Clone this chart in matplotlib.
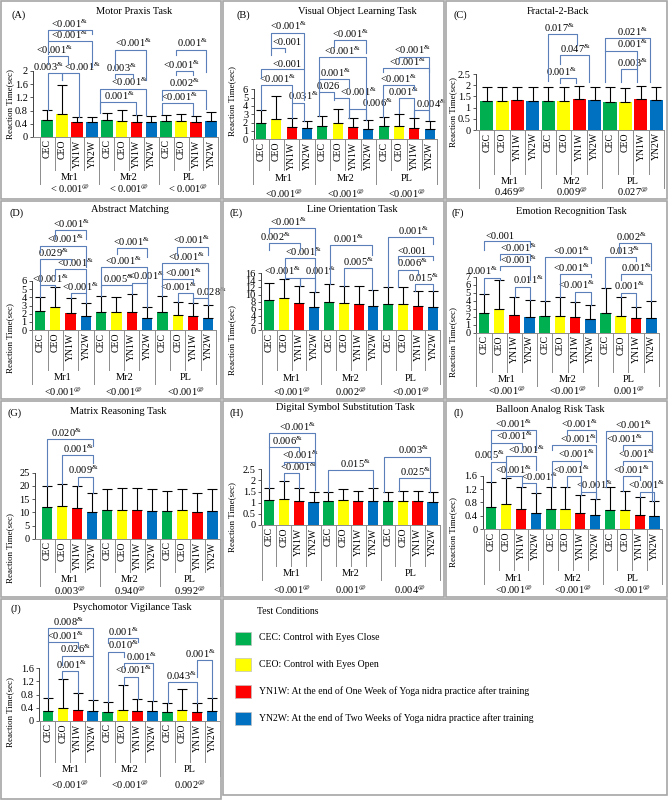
import matplotlib
matplotlib.use('Agg')
import matplotlib.pyplot as plt
from matplotlib.patches import Rectangle
from matplotlib.ticker import MultipleLocator, FormatStrFormatter

plt.rcParams['font.family'] = ['Liberation Serif', 'DejaVu Serif']
plt.rcParams['mathtext.fontset'] = 'custom'
plt.rcParams['mathtext.rm'] = 'Liberation Serif'
plt.rcParams['mathtext.it'] = 'Liberation Serif:italic'

W, H = 668, 800

conditions = ['CEC', 'CEO', 'YN1W', 'YN2W']
groups = ['Mr1', 'Mr2', 'PL']
colors = ['#00b050', '#ffff00', '#ff0000', '#0070c0']
legend_text = ['CEC: Control with Eyes Close',
               'CEO: Control with Eyes Open',
               'YN1W: At the end of One Week of Yoga nidra practice after training',
               'YN2W: At the end of Two Weeks of Yoga nidra practice after training']

# means and SD (upper error) per bar: Mr1 x4, Mr2 x4, PL x4
mean_A = [0.53, 0.71, 0.44, 0.44, 0.51, 0.50, 0.46, 0.44, 0.48, 0.48, 0.45, 0.47]
sd_A = [0.30, 0.88, 0.17, 0.17, 0.22, 0.31, 0.20, 0.19, 0.20, 0.21, 0.20, 0.29]
mean_B = [2.0, 2.45, 1.5, 1.3, 1.6, 1.9, 1.45, 1.25, 1.55, 1.65, 1.35, 1.2]
sd_B = [1.5, 2.75, 1.1, 0.95, 1.2, 1.75, 1.1, 1.05, 1.1, 1.4, 1.2, 1.05]
mean_C = [1.31, 1.31, 1.34, 1.31, 1.31, 1.29, 1.37, 1.34, 1.26, 1.26, 1.37, 1.32]
sd_C = [0.62, 0.62, 0.59, 0.62, 0.62, 0.61, 0.59, 0.59, 0.64, 0.63, 0.59, 0.61]
mean_D = [2.29, 2.82, 2.08, 1.71, 2.2, 2.16, 2.2, 1.51, 2.16, 1.88, 1.67, 1.51]
sd_D = [1.79, 2.40, 1.80, 1.64, 1.96, 1.84, 2.17, 1.35, 2.0, 1.55, 1.6, 1.55]
mean_E = [8.5, 9.15, 7.7, 6.6, 7.8, 7.55, 7.45, 6.8, 7.26, 7.45, 6.8, 6.4]
sd_E = [4.7, 5.25, 4.8, 4.1, 5.3, 4.85, 5.05, 4.5, 4.84, 4.65, 4.3, 4.6]
mean_F = [2.42, 3.0, 2.2, 2.0, 2.04, 2.12, 1.96, 1.71, 2.42, 2.12, 1.79, 1.87]
sd_F = [2.41, 3.58, 2.22, 2.08, 1.96, 2.38, 1.83, 1.75, 3.12, 2.38, 1.46, 2.13]
mean_G = [11.9, 12.4, 11.8, 10.2, 10.9, 10.9, 10.9, 10.55, 10.4, 10.8, 10.2, 10.55]
sd_G = [8.1, 8.5, 8.3, 7.3, 8.1, 8.3, 8.2, 8.15, 7.8, 8.2, 7.3, 8.15]
mean_H = [1.12, 1.17, 1.09, 1.03, 1.09, 1.11, 1.09, 1.09, 1.06, 1.06, 1.06, 1.05]
sd_H = [0.56, 0.81, 0.56, 0.47, 0.41, 0.49, 0.45, 0.56, 0.41, 0.45, 0.45, 0.42]
mean_I = [0.68, 0.75, 0.6, 0.5, 0.61, 0.61, 0.5, 0.43, 0.58, 0.58, 0.44, 0.41]
sd_I = [0.74, 0.77, 0.65, 0.57, 0.66, 0.64, 0.52, 0.46, 0.69, 0.57, 0.53, 0.43]
mean_J = [0.3, 0.38, 0.33, 0.3, 0.28, 0.33, 0.31, 0.3, 0.27, 0.32, 0.27, 0.3]
sd_J = [0.41, 0.9, 0.51, 0.34, 0.3, 0.76, 0.36, 0.32, 0.27, 0.65, 0.28, 0.39]

# p-values of each session (under the group labels)
pval_A = ['< 0.001@', '< 0.001@', '< 0.001@']
pval_B = ['<0.001@', '<0.001@', '<0.001@']
pval_C = ['0.469@', '0.009@', '0.027@']
pval_D = ['<0.001@', '<0.001@', '<0.001@']
pval_E = ['<0.001@', '0.002@', '<0.001@']
pval_F = ['<0.001@', '<0.001@', '0.001@']
pval_G = ['0.003@', '0.940@', '0.992@']
pval_H = ['<0.001@', '0.001@', '0.004@']
pval_I = ['<0.001@', '<0.001@', '<0.001@']
pval_J = ['<0.001@', '<0.001@', '0.002@']

# significance brackets: (x1, x2, y, left leg end, right leg end, label x, label)
sig_A = [(0.02, 3.04, 3.23, 2.93, 3.13, 1.52, '<0.001&'),
         (0.02, 3.04, 2.91, 2.53, 2.12, 1.52, '<0.001&'),
         (0.02, 1.41, 2.44, 2.22, 2.22, 0.51, '<0.001&'),
         (0.02, 0.96, 1.94, 0.81, 1.72, 0.07, '0.003&'),
         (0.96, 2.14, 1.94, 1.72, 0.61, 2.37, '<0.001&'),
         (4.53, 6.61, 2.65, 2.02, 1.72, 5.76, '<0.001&'),
         (4.53, 5.76, 1.90, 1.80, 1.80, 4.98, '0.003&'),
         (3.53, 6.61, 1.46, 0.81, 0.66, 5.54, '<0.001&'),
         (3.53, 5.94, 1.06, 0.73, 0.66, 4.87, '0.001&'),
         (8.66, 10.67, 2.65, 2.47, 1.97, 9.78, '0.001&'),
         (8.66, 9.78, 1.99, 1.87, 1.87, 9.00, '<0.001&'),
         (7.72, 10.67, 1.43, 1.11, 0.86, 9.22, '0.002&'),
         (7.72, 9.78, 1.03, 0.71, 0.66, 8.88, '<0.001&')]
sig_B = [(0.65, 2.78, 12.8, 11.1, 8.4, 1.8, '<0.001&'),
         (0.65, 1.59, 11.0, 10.1, 10.5, 1.7, '<0.001'),
         (0.0, 2.78, 8.44, 7.3, 4.7, 1.7, '<0.001'),
         (0.0, 2.0, 6.5, 3.5, 4.3, 1.04, '<0.001&'),
         (2.0, 2.78, 4.4, 2.6, 2.25, 2.78, '0.031&'),
         (4.74, 6.85, 11.9, 11.1, 10.3, 5.83, '<0.001&'),
         (3.76, 6.85, 9.84, 5.6, 2.4, 5.28, '<0.001&'),
         (3.76, 5.72, 7.2, 6.9, 6.2, 4.85, '0.001&'),
         (3.76, 4.74, 5.72, 2.8, 5.0, 4.41, '0.026'),
         (4.74, 5.72, 4.92, 4.7, 2.55, 6.37, '<0.001&'),
         (5.72, 6.85, 3.6, 2.55, 2.3, 7.57, '0.006&'),
         (8.98, 10.98, 9.92, 9.3, 8.1, 9.85, '<0.001&'),
         (7.96, 10.98, 8.52, 8.1, 2.3, 9.52, '<0.001&'),
         (7.96, 9.96, 6.52, 2.7, 5.9, 8.98, '<0.001&'),
         (8.98, 9.96, 4.92, 3.1, 2.64, 9.3, '0.001&'),
         (9.96, 10.98, 3.52, 2.64, 2.3, 11.15, '0.004&')]
sig_C = [(4.0, 5.89, 4.27, 2.2, 3.8, 4.71, '0.017&'),
         (4.75, 6.65, 3.35, 2.95, 2.16, 5.78, '0.047&'),
         (4.75, 5.78, 2.31, 2.1, 2.1, 4.82, '0.001&'),
         (7.66, 10.58, 4.09, 2.16, 2.16, 9.44, '0.021&'),
         (7.66, 9.72, 3.54, 3.54, 2.16, 9.48, '0.001&'),
         (8.69, 9.72, 2.71, 2.16, 2.71, 9.48, '0.003&')]
sig_D = [(0.98, 3.0, 12.2, 11.2, 11.2, 2.07, '<0.001&'),
         (0.0, 3.0, 10.3, 9.6, 7.76, 1.63, '<0.001&'),
         (0.0, 2.0, 8.7, 5.5, 8.4, 0.87, '0.029&'),
         (0.98, 3.0, 7.43, 6.3, 4.5, 2.29, '<0.001&'),
         (0.0, 0.98, 5.5, 4.1, 5.25, 0.65, '<0.001&'),
         (2.0, 3.0, 4.49, 3.9, 3.35, 2.61, '<0.001&'),
         (5.01, 6.99, 10.0, 9.3, 9.0, 5.99, '<0.001&'),
         (4.0, 6.99, 7.67, 5.3, 2.86, 5.45, '<0.001&'),
         (4.0, 6.0, 5.5, 4.16, 4.37, 5.12, '0.005&'),
         (6.0, 6.99, 5.8, 5.5, 5.8, 6.97, '<0.001&'),
         (8.93, 11.0, 10.2, 9.2, 9.2, 9.91, '<0.001&'),
         (8.0, 11.0, 8.16, 4.16, 3.06, 9.59, '<0.001&'),
         (8.0, 10.0, 6.2, 6.2, 5.7, 9.37, '<0.001&'),
         (9.02, 10.0, 4.49, 3.43, 3.27, 9.04, '<0.001&'),
         (10.0, 11.0, 3.88, 3.27, 3.06, 11.22, '0.028&')]
sig_E = [(0.0, 3.09, 28.8, 27.4, 21.2, 1.3, '<0.001&'),
         (0.0, 2.04, 24.5, 22.6, 22.6, 0.4, '0.002&'),
         (1.03, 3.09, 20.3, 14.8, 10.7, 2.31, '<0.001&'),
         (1.03, 2.04, 14.8, 14.4, 12.5, 0.85, '<0.001&'),
         (2.04, 3.09, 14.8, 12.5, 10.7, 3.43, '0.001&'),
         (4.06, 6.9, 23.9, 13.1, 21.2, 5.34, '0.001&'),
         (5.0, 6.9, 17.5, 12.4, 11.3, 6.0, '0.005&'),
         (7.96, 11.0, 26.2, 12.1, 24.3, 9.71, '0.001&'),
         (8.65, 11.0, 20.8, 18.9, 19.8, 9.6, '<0.001'),
         (8.65, 10.0, 17.0, 12.1, 15.6, 9.6, '0.006&'),
         (9.8, 11.0, 13.0, 11.1, 11.0, 10.38, '0.015&')]
sig_F = [(0.0, 3.0, 11.46, 10.3, 10.7, 1.03, '<0.001'),
         (1.03, 3.0, 9.83, 9.1, 9.1, 2.24, '<0.001&'),
         (1.03, 3.0, 8.33, 7.83, 6.58, 2.24, '<0.001&'),
         (0.0, 1.03, 6.88, 4.83, 6.58, -0.07, '0.001&'),
         (2.02, 3.0, 5.75, 4.42, 4.08, 2.9, '0.011&'),
         (3.99, 7.02, 9.42, 4.0, 8.67, 5.75, '<0.001&'),
         (5.02, 7.02, 7.33, 4.5, 7.0, 5.75, '<0.001&'),
         (6.0, 7.02, 5.13, 3.79, 3.46, 6.07, '<0.001&'),
         (8.9, 11.0, 11.2, 10.1, 7.83, 9.69, '0.002&'),
         (7.98, 10.0, 9.42, 5.54, 9.0, 9.25, '0.013&'),
         (9.01, 11.0, 7.33, 6.58, 4.0, 10.0, '0.001&'),
         (9.01, 10.0, 5.0, 4.5, 3.25, 9.58, '0.001&')]
sig_G = [(0.0, 3.08, 37.7, 20.0, 35.0, 1.31, '0.020&'),
         (1.02, 3.08, 31.7, 20.9, 28.6, 2.08, '0.001&'),
         (2.08, 3.08, 23.5, 20.1, 17.5, 2.42, '0.009&')]
sig_H = [(0.0, 3.12, 4.12, 3.52, 1.57, 1.88, '<0.001&'),
         (0.0, 2.04, 3.49, 1.68, 3.29, 1.21, '0.006&'),
         (1.03, 3.12, 2.84, 2.69, 2.62, 2.1, '<0.001&'),
         (1.03, 2.04, 2.32, 1.98, 1.65, 1.95, '<0.001&'),
         (3.97, 6.97, 2.47, 1.5, 1.65, 5.81, '0.015&'),
         (7.76, 10.85, 3.07, 1.47, 2.1, 9.73, '0.003&'),
         (8.77, 10.85, 2.1, 1.51, 1.47, 9.84, '0.025&')]
sig_I = [(0.0, 3.03, 2.96, 2.6, 2.36, 1.46, '<0.001&'),
         (0.0, 2.07, 2.59, 2.09, 2.36, 1.57, '<0.001&'),
         (1.01, 3.03, 2.19, 1.77, 1.77, 2.36, '<0.001&'),
         (0.0, 1.01, 2.02, 1.42, 1.52, -0.11, '0.005&'),
         (1.01, 2.07, 1.59, 1.52, 1.25, 1.46, '<0.001&'),
         (2.07, 3.03, 1.37, 1.25, 1.07, 3.26, '<0.001&'),
         (5.1, 7.08, 2.96, 2.81, 2.61, 5.96, '<0.001&'),
         (4.09, 7.08, 2.51, 2.36, 0.89, 5.84, '<0.001&'),
         (4.09, 6.07, 2.05, 1.27, 1.92, 5.73, '<0.001&'),
         (5.1, 6.07, 1.59, 1.25, 1.02, 5.39, '<0.001&'),
         (6.07, 7.08, 1.12, 1.02, 0.89, 6.97, '<0.001&'),
         (7.75, 10.85, 2.93, 1.27, 2.36, 9.55, '<0.001&'),
         (8.88, 10.85, 2.51, 2.36, 2.36, 8.99, '<0.001&'),
         (8.88, 10.85, 2.05, 1.92, 0.84, 9.78, '<0.001&'),
         (8.88, 10.0, 1.59, 1.15, 1.47, 9.44, '<0.001&'),
         (10.0, 11.0, 1.12, 0.97, 0.84, 10.45, '<0.001&')]
sig_J = [(0.0, 3.05, 2.82, 2.39, 2.0, 1.38, '0.008&'),
         (0.0, 2.05, 2.39, 0.71, 2.22, 1.16, '<0.001&'),
         (0.94, 3.05, 1.98, 1.7, 0.64, 1.83, '0.026&'),
         (0.94, 2.05, 1.52, 1.28, 0.84, 1.6, '0.001&'),
         (4.05, 6.06, 2.51, 2.36, 2.39, 5.06, '0.001&'),
         (4.05, 5.1, 2.1, 0.58, 1.95, 5.06, '0.010&'),
         (5.1, 7.02, 1.75, 1.6, 0.62, 6.28, '0.001&'),
         (5.1, 6.06, 1.35, 1.09, 0.67, 5.72, '<0.001&'),
         (9.96, 11.0, 1.85, 1.35, 0.69, 10.18, '0.001&'),
         (8.06, 10.0, 1.17, 0.54, 0.55, 8.95, '0.043&')]

# layout of each panel in pixels
panels = [
    dict(tag='(A)', title='Motor Praxis Task', mean=mean_A, sd=sd_A, pv=pval_A, sig=sig_A,
         ax=(33.3, 218.3, 71, 137), ymax=2, step=0.4, xl=-0.94, bw=0.78, grp=41, p=52,
         tpos=(134, 11), tagpos=(19, 15), ylab=(10, 104)),
    dict(tag='(B)', title='Visual Object Learning Task', mean=mean_B, sd=sd_B, pv=pval_B, sig=sig_B,
         ax=(253.7, 437.3, 89.3, 139.3), ymax=6, step=1, xl=-0.48, bw=0.66, grp=39, p=54,
         tpos=(357, 11), tagpos=(243, 15), ylab=(232, 101)),
    dict(tag='(C)', title='Fractal-2-Back', mean=mean_C, sd=sd_C, pv=pval_C, sig=sig_C,
         ax=(476.3, 664, 74, 130), ymax=2.5, step=0.5, xl=-0.67, bw=0.85, grp=52, p=62,
         tpos=(558, 11), tagpos=(460, 15), ylab=(453, 112)),
    dict(tag='(D)', title='Abstract Matching', mean=mean_D, sd=sd_D, pv=pval_D, sig=sig_D,
         ax=(32.3, 216, 281, 330), ymax=6, step=1, xl=-0.5, bw=0.67, grp=48, p=62,
         tpos=(130, 210), tagpos=(17, 213), ylab=(10, 338)),
    dict(tag='(E)', title='Line Orientation Task', mean=mean_E, sd=sd_E, pv=pval_E, sig=sig_E,
         ax=(261.3, 440.3, 273.3, 330), ymax=16, step=2, xl=-0.54, bw=0.67, grp=48, p=62,
         tpos=(352, 209), tagpos=(236, 213), ylab=(232, 340)),
    dict(tag='(F)', title='Emotion Recognition Task', mean=mean_F, sd=sd_F, pv=pval_F, sig=sig_F,
         ax=(476.3, 658.8, 276.7, 332.7), ymax=7, step=1, xl=-0.5, bw=0.7, grp=47, p=58,
         tpos=(571, 212), tagpos=(458, 213), ylab=(453, 342)),
    dict(tag='(G)', title='Matrix Reasoning Task', mean=mean_G, sd=sd_G, pv=pval_G, sig=sig_G,
         ax=(35, 219.9, 472.7, 539), ymax=25, step=5, xl=-0.8, bw=0.69, grp=41, p=52,
         tpos=(118, 412), tagpos=(15, 413), ylab=(10, 548)),
    dict(tag='(H)', title='Digital Symbol Substitution Task', mean=mean_H, sd=sd_H, pv=pval_H, sig=sig_H,
         ax=(261.3, 440, 469.3, 525), ymax=2.5, step=0.5, xl=-0.52, bw=0.7, grp=49, p=65,
         tpos=(345, 407), tagpos=(237, 413), ylab=(232, 517)),
    dict(tag='(I)', title='Balloon Analog Risk Task', mean=mean_I, sd=sd_I, pv=pval_I, sig=sig_I,
         ax=(483, 661.9, 475.7, 529.3), ymax=1.6, step=0.4, xl=-0.56, bw=0.68, grp=49, p=61,
         tpos=(550, 410), tagpos=(459, 413), ylab=(453, 532)),
    dict(tag='(J)', title='Psychomotor Vigilance Task', mean=mean_J, sd=sd_J, pv=pval_J, sig=sig_J,
         ax=(39.3, 219.8, 668.3, 721), ymax=1.6, step=0.4, xl=-0.56, bw=0.68, grp=49, p=64,
         tpos=(132, 608), tagpos=(16, 609), ylab=(10, 712)),
]

BR_COL = '#5b7fb8'
GRID_COL = '#8c8c8c'


def sup(s):
    # trailing & / @ are drawn as superscripts
    if s[-1] in '&@':
        return s[:-1] + '$^{' + s[-1] + '}$'
    return s


def ftext(x, y, s, **kw):
    fig.text(x / W, 1 - y / H, s, **kw)


fig = plt.figure(figsize=(W / 100, H / 100), dpi=100)

for pn in panels:
    left, right, top, bottom = pn['ax']
    ax = fig.add_axes([left / W, 1 - bottom / H, (right - left) / W, (bottom - top) / H])
    h = bottom - top
    x = list(range(12))
    ax.bar(x, pn['mean'], width=pn['bw'], color=colors * 3, zorder=2)
    eb = ax.errorbar(x, pn['mean'], yerr=[[0] * 12, pn['sd']], fmt='none', ecolor='black',
                     elinewidth=0.8, capsize=3.5, capthick=0.8, zorder=3)
    for art in list(eb[1]) + list(eb[2]):
        art.set_clip_on(False)
    ax.set_xlim(pn['xl'], 11.5)
    ax.set_ylim(0, pn['ymax'])
    ax.set_xticks([])
    ax.yaxis.set_major_locator(MultipleLocator(pn['step']))
    ax.yaxis.set_major_formatter(FormatStrFormatter('%g'))
    ax.tick_params(axis='y', direction='out', length=2.5, width=0.6, labelsize=7.5, pad=1.5,
                   color='#404040')
    for side in ['top', 'right']:
        ax.spines[side].set_visible(False)
    ax.spines['left'].set_color('#404040')
    ax.spines['left'].set_linewidth(0.7)
    ax.spines['bottom'].set_color(GRID_COL)
    ax.spines['bottom'].set_linewidth(0.7)
    ax.patch.set_alpha(0)

    trans = ax.get_xaxis_transform()
    cell = pn['grp'] - 8
    sep = pn['grp'] + 6
    for k in range(13):
        off = sep if k % 4 == 0 else cell
        ax.plot([k - 0.5, k - 0.5], [0, -off / h], transform=trans, clip_on=False,
                color=GRID_COL, lw=0.7)
    for i in range(12):
        ax.text(i, -2.5 / h, conditions[i % 4], rotation=90, ha='center', va='top',
                transform=trans, fontsize=7)
    for g in range(3):
        ax.text(1.5 + 4 * g, -pn['grp'] / h, groups[g], ha='center', va='center',
                transform=trans, fontsize=7.5)
        ax.text(1.5 + 4 * g, -pn['p'] / h, sup(pn['pv'][g]), ha='center', va='center',
                transform=trans, fontsize=7.5)

    for x1, x2, y, yl, yr, lx, lab in pn['sig']:
        ax.plot([x1, x1, x2, x2], [yl, y, y, yr], color=BR_COL, lw=0.8, clip_on=False, zorder=4)
        ax.annotate(sup(lab), (lx, y), xytext=(0, 0.3), textcoords='offset points',
                    ha='center', va='bottom', fontsize=7.5, annotation_clip=False)

    ftext(*pn['tpos'], pn['title'], ha='center', va='center', fontsize=7.5)
    ftext(*pn['tagpos'], pn['tag'], ha='center', va='center', fontsize=7.5)
    ftext(*pn['ylab'], 'Reaction Time(sec)', rotation=90, ha='center', va='center', fontsize=6.5)

# panel frames
boxes = []
for y1, y2 in [(0, 200), (200, 400), (400, 598)]:
    for x1, x2 in [(0, 222), (222, 445), (445, 668)]:
        boxes.append((x1, y1, x2, y2))
boxes.append((0, 598, 222, 800))
boxes.append((222, 598, 668, 796))
for x1, y1, x2, y2 in boxes:
    fig.add_artist(Rectangle(((x1 + 0.75) / W, 1 - (y2 - 0.75) / H), (x2 - x1 - 1.5) / W,
                             (y2 - y1 - 1.5) / H, transform=fig.transFigure, fill=False,
                             ec='#a6a6a6', lw=1.2))

# legend box
ftext(257, 611, 'Test Conditions', ha='left', va='center', fontsize=7)
for k, (col, txt) in enumerate(zip(colors, legend_text)):
    yc = 638 + k * 26.7
    fig.add_artist(Rectangle((235 / W, 1 - (yc + 6.5) / H), 16 / W, 13 / H,
                             transform=fig.transFigure, fc=col, ec='#c0c0c0', lw=0.5))
    ftext(259, yc, txt, ha='left', va='center', fontsize=7)

fig.savefig('out.png', dpi=100)
